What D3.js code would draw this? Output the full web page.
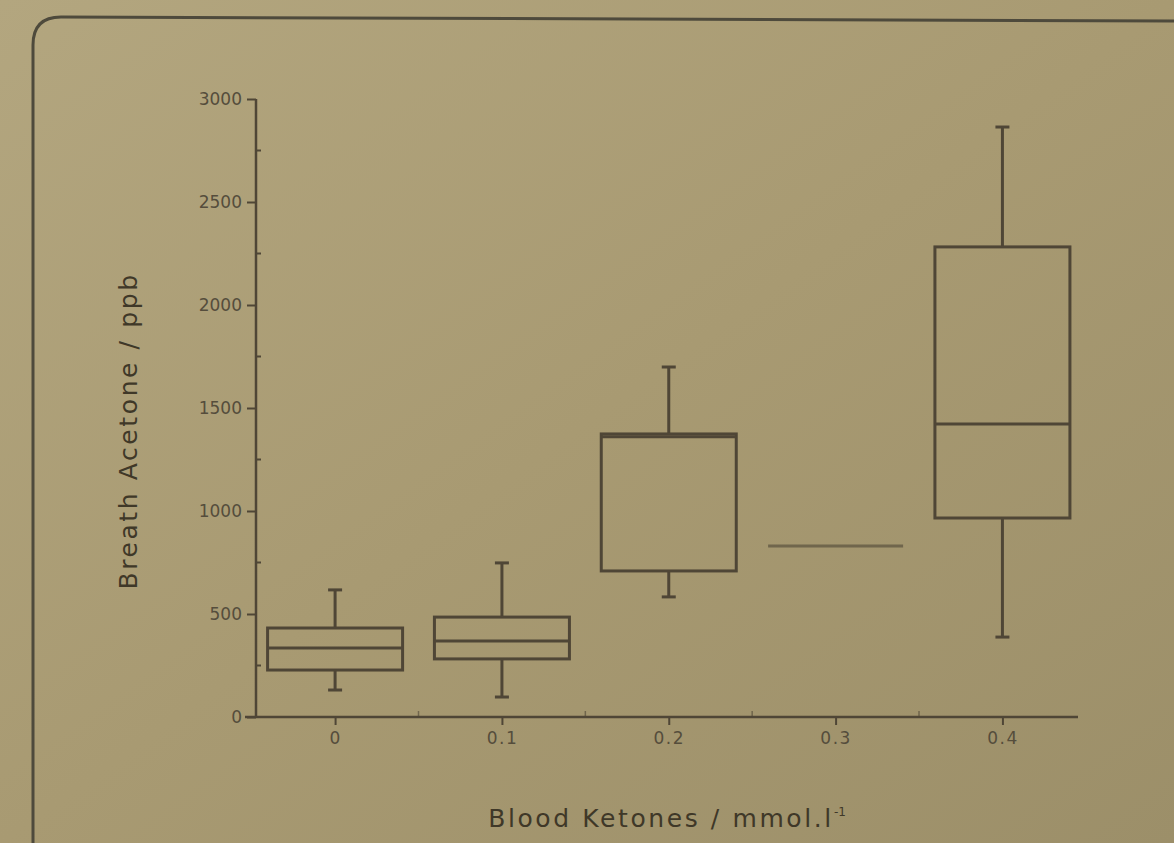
<!DOCTYPE html>
<html><head><meta charset="utf-8">
<script src="https://cdn.jsdelivr.net/npm/d3@7/dist/d3.min.js"></script>
<style>
html,body{margin:0;padding:0;background:#a99b74;}
svg{display:block;}
text{font-family:"DejaVu Sans","Liberation Sans",Arial,sans-serif;}
</style></head>
<body><svg id="c" width="1174" height="843"></svg>
<script>
const categories = [0, 0.1, 0.2, 0.3, 0.4];
const whiskerLow  = [131, 97, 583, 830, 388];
const q1Values    = [228, 282, 709, 830, 966];
const medianValues= [335, 369, 1360, 830, 1422];
const q3Values    = [432, 485, 1374, 830, 2282];
const whiskerHigh = [617, 748, 1699, 830, 2864];
const yTicks = [0, 500, 1000, 1500, 2000, 2500, 3000];
const xTickLabels = ["0", "0.1", "0.2", "0.3", "0.4"];

const svg = d3.select("#c");
const defs = svg.append("defs");
const g = defs.append("linearGradient").attr("id","bg").attr("x1","0").attr("y1","0").attr("x2","1").attr("y2","1");
g.append("stop").attr("offset","0").attr("stop-color","#b3a67f");
g.append("stop").attr("offset","0.5").attr("stop-color","#a89a72");
g.append("stop").attr("offset","1").attr("stop-color","#9c8f69");
svg.append("rect").attr("width",1174).attr("height",843).attr("fill","url(#bg)");

// frame
svg.append("path")
  .attr("d","M33,843 L33,45 Q33,17 61,17 L1174,21")
  .attr("fill","none").attr("stroke","#4e4a3c").attr("stroke-width",3);

const x = d3.scaleLinear().domain([-0.054, 0.4453]).range([245, 1078]);
const y = d3.scaleLinear().domain([0, 3000]).range([717, 99]);
const ink = "#4f4636";
const labelInk = "#554d3c";
const boxW = 135;

// y axis
const yAxis = svg.append("g").attr("transform","translate(256,0)")
  .call(d3.axisLeft(y).tickValues(yTicks).tickSize(9).tickPadding(5).tickFormat(d3.format("d")));
yAxis.select(".domain").remove();
yAxis.selectAll(".tick line").attr("stroke",ink).attr("stroke-width",2);
yAxis.selectAll("text").attr("fill",labelInk).attr("font-size",17).attr("dy","0.35em");
svg.append("line").attr("x1",256).attr("x2",256).attr("y1",y(3000)).attr("y2",y(0)+1)
  .attr("stroke",ink).attr("stroke-width",2.5);
// minor y ticks
svg.append("g").selectAll("line").data(d3.range(250,3000,500)).join("line")
  .attr("x1",256).attr("x2",261).attr("y1",d=>y(d)).attr("y2",d=>y(d))
  .attr("stroke",ink).attr("stroke-width",2);

// x axis
const xAxis = svg.append("g").attr("transform","translate(0,717)")
  .call(d3.axisBottom(x).tickValues(categories).tickSize(8).tickPadding(7)
    .tickFormat((d,i)=>xTickLabels[i]));
xAxis.select(".domain").remove();
xAxis.selectAll(".tick line").attr("stroke",ink).attr("stroke-width",2);
xAxis.selectAll("text").attr("fill",labelInk).attr("font-size",17).attr("letter-spacing",1.5);
svg.append("line").attr("x1",245).attr("x2",1078).attr("y1",717).attr("y2",717)
  .attr("stroke",ink).attr("stroke-width",2.5);
// minor x ticks
svg.append("g").selectAll("line").data(d3.range(0.05,0.45,0.1)).join("line")
  .attr("x1",d=>x(d)).attr("x2",d=>x(d)).attr("y1",717).attr("y2",711)
  .attr("stroke",ink).attr("stroke-width",1.5).attr("opacity",0.6);

// boxes
const boxes = svg.append("g");
categories.forEach((c,i)=>{
  const cx = x(c);
  const gg = boxes.append("g").attr("stroke",ink).attr("fill","none").attr("stroke-width",3);
  if (q3Values[i] > q1Values[i]) {
    gg.append("line").attr("x1",cx).attr("x2",cx).attr("y1",y(whiskerHigh[i])).attr("y2",y(q3Values[i]));
    gg.append("line").attr("x1",cx).attr("x2",cx).attr("y1",y(q1Values[i])).attr("y2",y(whiskerLow[i]));
    gg.append("line").attr("x1",cx-7).attr("x2",cx+7).attr("y1",y(whiskerHigh[i])).attr("y2",y(whiskerHigh[i]));
    gg.append("line").attr("x1",cx-7).attr("x2",cx+7).attr("y1",y(whiskerLow[i])).attr("y2",y(whiskerLow[i]));
    gg.append("rect").attr("x",cx-boxW/2).attr("width",boxW)
      .attr("y",y(q3Values[i])).attr("height",y(q1Values[i])-y(q3Values[i]));
  }
  gg.append("line").attr("x1",cx-boxW/2).attr("x2",cx+boxW/2)
    .attr("y1",y(medianValues[i])).attr("y2",y(medianValues[i]))
    .attr("stroke-opacity", q3Values[i] > q1Values[i] ? 1 : 0.6);
});

// axis titles
const xt = svg.append("text").attr("x",667).attr("y",827).attr("text-anchor","middle")
  .attr("font-size",25).attr("letter-spacing",2.6).attr("fill","#3f3828")
  .text("Blood Ketones / mmol.l");
xt.append("tspan").attr("dy",-11).attr("font-size",12).attr("letter-spacing",0).text("-1");
svg.append("text").attr("transform","translate(137,431) rotate(-90)").attr("text-anchor","middle")
  .attr("font-size",25).attr("letter-spacing",2.6).attr("fill","#3f3828").text("Breath Acetone / ppb");
</script></body></html>
